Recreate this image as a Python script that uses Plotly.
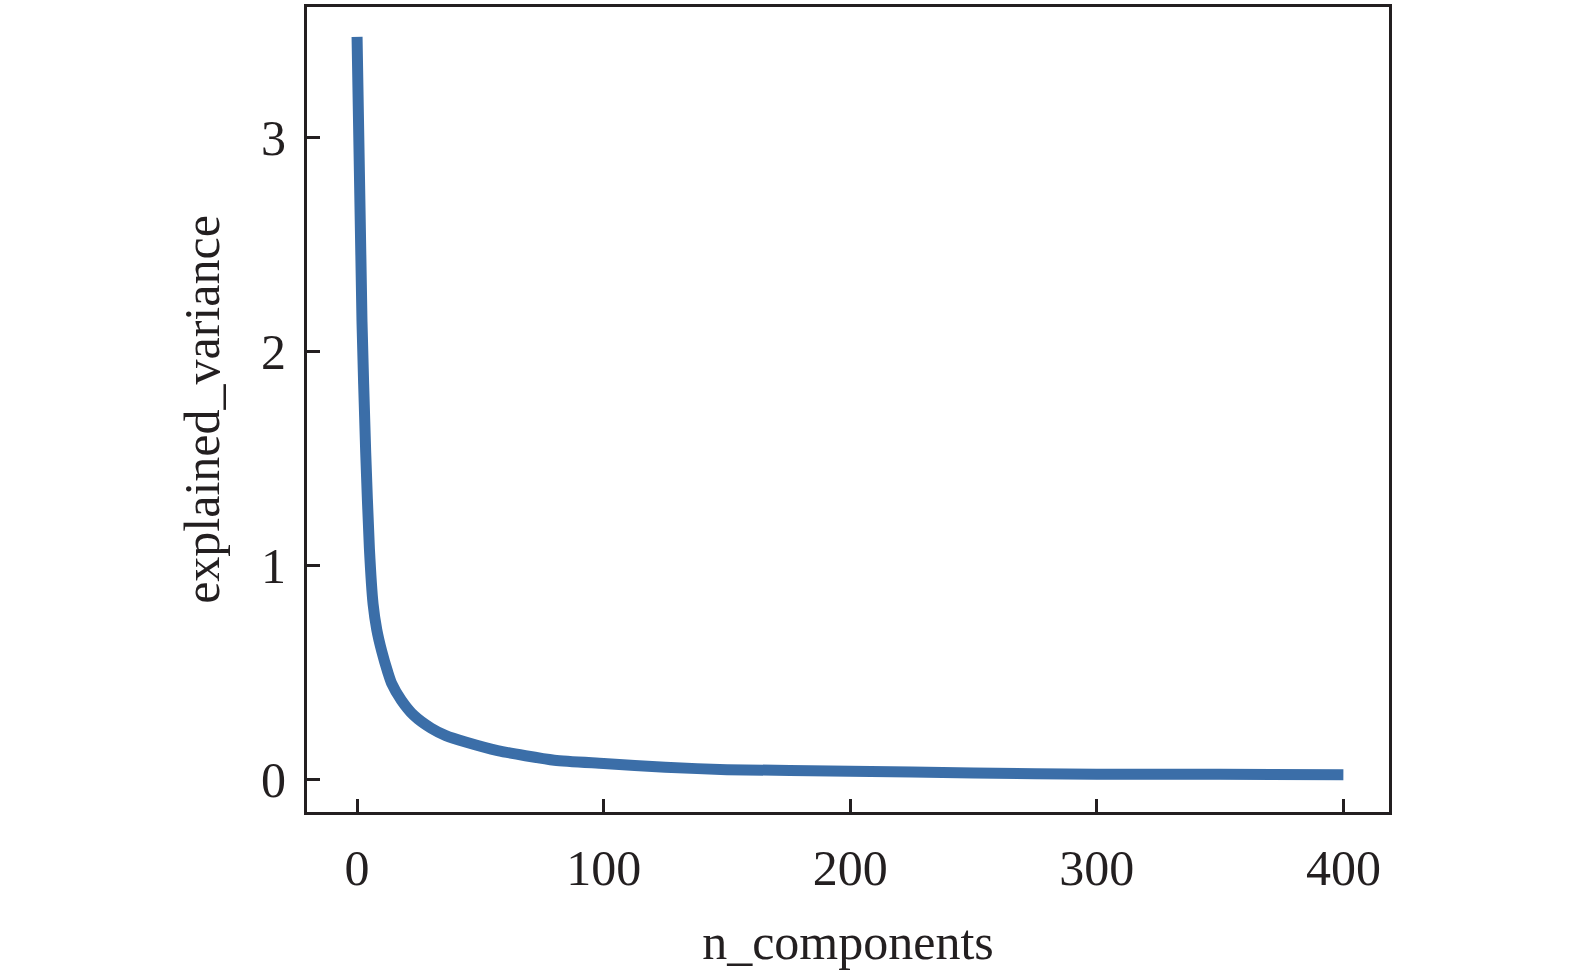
import plotly.graph_objects as go

# values
n_components = [0, 2, 3.5, 5, 6.5, 8, 10, 12.5, 14, 18, 23, 30, 36, 44, 57, 80,
                100, 125, 150, 200, 250, 300, 350, 400]
explained_variance = [3.47, 2.14, 1.53, 1.08, 0.82, 0.70, 0.60, 0.50, 0.45, 0.37,
                      0.30, 0.24, 0.205, 0.175, 0.135, 0.09, 0.075, 0.057, 0.046,
                      0.039, 0.030, 0.025, 0.024, 0.022]

x_ticks = [0, 100, 200, 300, 400]
y_ticks = [0, 1, 2, 3]

ink = "#231f20"
serif = "Liberation Serif, Times New Roman, serif"

fig = go.Figure(
    go.Scatter(
        x=n_components,
        y=explained_variance,
        mode="lines",
        line=dict(color="#3b6ea8", width=11, shape="spline", smoothing=0.6),
        showlegend=False,
    )
)

axis_common = dict(
    showgrid=False,
    zeroline=False,
    showline=True,
    linecolor=ink,
    linewidth=3,
    mirror=True,
    ticks="inside",
    ticklen=13,
    tickwidth=3,
    tickcolor=ink,
    tickfont=dict(family=serif, size=50, color=ink),
)

fig.update_layout(
    width=1575,
    height=980,
    margin=dict(l=307, r=186, t=4, b=168),
    paper_bgcolor="white",
    plot_bgcolor="white",
    font=dict(family=serif, color=ink),
    xaxis=dict(
        axis_common,
        range=[-20.3, 418.5],
        tickvals=x_ticks,
        ticklabelstandoff=10,
        title=dict(text="n_components", font=dict(family=serif, size=50, color=ink), standoff=29),
    ),
    yaxis=dict(
        axis_common,
        range=[-0.152, 3.61],
        tickvals=y_ticks,
        ticklabelstandoff=8,
        title=dict(text="explained_variance", font=dict(family=serif, size=50, color=ink), standoff=26),
    ),
)

# drop the browser's default 8px body margin so the figure sits at the page corner
fig.write_html(
    "out.html",
    config={"displayModeBar": False},
    post_script="document.body.style.margin='0';",
)
